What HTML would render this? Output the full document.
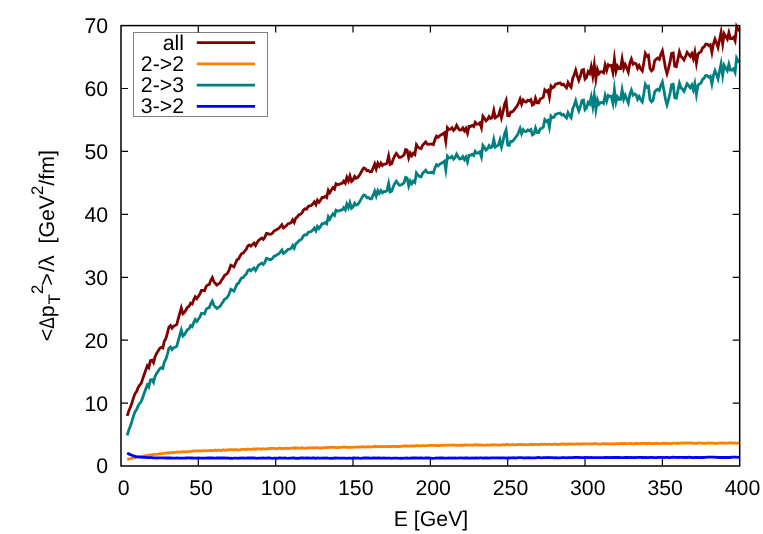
<!DOCTYPE html>
<html><head><meta charset="utf-8"><style>
html,body{margin:0;padding:0;background:#fff;}
svg{display:block;will-change:transform}
text{font-family:"Liberation Sans",sans-serif;font-size:21.3px;fill:#000;white-space:pre;text-rendering:geometricPrecision}
</style></head><body>
<svg width="763" height="534" viewBox="0 0 763 534">
<rect width="763" height="534" fill="#fff"/>
<g fill="none" stroke-linejoin="miter" stroke-miterlimit="10" stroke-linecap="butt" stroke-width="2.8">
<path d="M127.2,415.9 L128.7,411.2 L130.3,407.5 L131.8,403.2 L133.4,398.1 L134.9,393.8 L136.5,391.7 L138.0,387.9 L139.6,385.0 L141.1,383.6 L142.7,378.9 L144.2,374.5 L145.7,370.1 L147.3,365.8 L148.8,367.7 L150.4,360.6 L151.9,360.1 L153.5,362.7 L155.0,356.9 L156.6,353.5 L158.1,351.1 L159.7,348.5 L161.2,347.3 L162.8,348.0 L164.3,341.3 L165.9,338.5 L167.4,333.1 L168.9,327.2 L170.5,325.6 L172.0,328.2 L173.6,326.2 L175.1,325.6 L176.7,324.6 L178.2,318.9 L179.8,313.2 L181.3,308.0 L182.9,313.8 L184.4,312.6 L186.0,309.7 L187.5,307.3 L189.1,306.3 L190.6,303.1 L192.2,304.0 L193.7,299.8 L195.2,296.7 L196.8,298.6 L198.3,296.4 L199.9,294.0 L201.4,290.3 L203.0,290.3 L204.5,290.8 L206.1,286.4 L207.6,284.9 L209.2,284.5 L210.7,280.6 L212.3,277.6 L213.8,281.6 L215.4,283.5 L216.9,285.0 L218.4,283.8 L220.0,282.9 L221.5,280.3 L223.1,278.0 L224.6,275.4 L226.2,274.5 L227.7,272.9 L229.3,269.5 L230.8,265.3 L232.4,266.1 L233.9,266.8 L235.5,263.4 L237.0,259.8 L238.6,258.9 L240.1,255.9 L241.6,253.6 L243.2,253.1 L244.7,251.1 L246.3,249.3 L247.8,246.0 L249.4,244.9 L250.9,246.1 L252.5,244.6 L254.0,243.1 L255.6,245.5 L257.1,242.7 L258.7,240.2 L260.2,239.1 L261.8,238.1 L263.3,239.5 L264.8,237.4 L266.4,233.4 L267.9,233.7 L269.5,234.3 L271.0,234.2 L272.6,233.0 L274.1,230.8 L275.7,230.2 L277.2,229.2 L278.8,228.4 L280.3,226.6 L281.9,224.6 L283.4,228.0 L285.0,226.9 L286.5,225.6 L288.0,223.7 L289.6,223.5 L291.1,222.7 L292.7,219.9 L294.2,222.5 L295.8,218.1 L297.3,216.9 L298.9,214.8 L300.4,214.3 L302.0,212.9 L303.5,210.0 L305.1,208.8 L306.6,209.1 L308.2,206.5 L309.7,205.9 L311.3,205.5 L312.8,204.0 L314.3,201.9 L315.9,204.7 L317.4,200.2 L319.0,202.4 L320.5,200.2 L322.1,197.5 L323.6,197.5 L325.2,196.3 L326.7,197.5 L328.3,190.3 L329.8,192.8 L331.4,189.9 L332.9,187.6 L334.5,189.1 L336.0,183.8 L337.5,184.6 L339.1,184.3 L340.6,183.7 L342.2,183.3 L343.7,181.1 L345.3,183.1 L346.8,177.4 L348.4,180.9 L349.9,175.9 L351.5,181.5 L353.0,180.1 L354.6,176.4 L356.1,178.3 L357.7,177.6 L359.2,175.6 L360.7,173.0 L362.3,170.1 L363.8,168.0 L365.4,168.6 L366.9,170.7 L368.5,170.4 L370.0,171.7 L371.6,171.6 L373.1,168.0 L374.7,164.0 L376.2,168.8 L377.8,163.3 L379.3,166.1 L380.9,163.1 L382.4,165.5 L383.9,164.1 L385.5,164.1 L387.0,163.1 L388.6,156.1 L390.1,164.4 L391.7,163.7 L393.2,159.3 L394.8,155.7 L396.3,153.4 L397.9,155.6 L399.4,157.5 L401.0,157.2 L402.5,156.2 L404.1,154.7 L405.6,149.6 L407.1,150.1 L408.7,157.8 L410.2,153.0 L411.8,155.7 L413.3,153.2 L414.9,154.6 L416.4,144.8 L418.0,147.1 L419.5,148.3 L421.1,148.6 L422.6,145.2 L424.2,143.5 L425.7,141.9 L427.3,144.2 L428.8,144.3 L430.4,144.1 L431.9,144.0 L433.4,144.6 L435.0,139.3 L436.5,136.2 L438.1,137.4 L439.6,135.8 L441.2,134.8 L442.7,134.1 L444.3,132.8 L445.8,141.3 L447.4,127.6 L448.9,129.4 L450.5,129.2 L452.0,127.8 L453.6,130.5 L455.1,128.8 L456.6,125.4 L458.2,128.2 L459.7,130.1 L461.3,130.0 L462.8,127.9 L464.4,130.9 L465.9,128.3 L467.5,133.2 L469.0,126.4 L470.6,126.5 L472.1,125.4 L473.7,126.5 L475.2,122.3 L476.8,124.2 L478.3,124.1 L479.8,122.9 L481.4,127.8 L482.9,116.3 L484.5,118.4 L486.0,120.9 L487.6,119.5 L489.1,116.5 L490.7,118.5 L492.2,117.6 L493.8,110.4 L495.3,117.8 L496.9,116.7 L498.4,115.7 L500.0,110.6 L501.5,117.7 L503.0,112.0 L504.6,104.2 L506.1,100.5 L507.7,115.6 L509.2,115.9 L510.8,111.8 L512.3,111.8 L513.9,110.3 L515.4,108.1 L517.0,106.2 L518.5,103.1 L520.1,99.1 L521.6,104.1 L523.2,100.0 L524.7,101.7 L526.2,101.9 L527.8,100.2 L529.3,100.9 L530.9,99.7 L532.4,105.1 L534.0,104.1 L535.5,98.2 L537.1,102.7 L538.6,103.0 L540.2,99.0 L541.7,98.3 L543.3,97.2 L544.8,89.8 L546.4,91.4 L547.9,90.3 L549.4,97.2 L551.0,86.1 L552.5,87.7 L554.1,87.0 L555.6,84.1 L557.2,83.8 L558.7,83.2 L560.3,83.0 L561.8,84.8 L563.4,84.2 L564.9,86.1 L566.5,87.8 L568.0,82.5 L569.6,85.4 L571.1,87.3 L572.7,78.4 L574.2,74.8 L575.7,70.2 L577.3,76.1 L578.8,80.4 L580.4,76.1 L581.9,70.0 L583.5,69.5 L585.0,79.0 L586.6,77.3 L588.1,71.7 L589.7,73.5 L591.2,66.7 L592.8,76.0 L594.3,64.8 L595.9,78.9 L597.4,69.4 L598.9,73.7 L600.5,71.9 L602.0,71.7 L603.6,72.8 L605.1,65.0 L606.7,70.4 L608.2,64.8 L609.8,65.8 L611.3,65.4 L612.9,72.3 L614.4,58.9 L616.0,71.3 L617.5,66.1 L619.1,68.5 L620.6,68.5 L622.1,59.0 L623.7,68.4 L625.2,64.4 L626.8,68.1 L628.3,72.0 L629.9,63.0 L631.4,59.1 L633.0,64.2 L634.5,63.1 L636.1,63.8 L637.6,68.3 L639.2,65.6 L640.7,68.8 L642.3,70.9 L643.8,62.8 L645.3,53.4 L646.9,56.1 L648.4,55.2 L650.0,68.3 L651.5,70.7 L653.1,69.2 L654.6,60.9 L656.2,59.1 L657.7,58.1 L659.3,59.4 L660.8,54.5 L662.4,50.8 L663.9,59.0 L665.5,68.3 L667.0,73.6 L668.5,68.4 L670.1,61.7 L671.6,53.4 L673.2,53.0 L674.7,66.3 L676.3,66.8 L677.8,59.8 L679.4,51.9 L680.9,56.2 L682.5,58.0 L684.0,60.0 L685.6,56.2 L687.1,52.3 L688.7,54.3 L690.2,56.4 L691.8,53.6 L693.3,58.6 L694.8,52.1 L696.4,63.0 L697.9,54.3 L699.5,52.4 L701.0,51.8 L702.6,47.8 L704.1,46.9 L705.7,44.1 L707.2,44.1 L708.8,45.7 L710.3,44.7 L711.9,52.6 L713.4,44.1 L715.0,39.2 L716.5,42.9 L718.0,47.4 L719.6,39.5 L721.1,32.2 L722.7,43.9 L724.2,33.8 L725.8,36.6 L727.3,39.1 L728.9,32.7 L730.4,38.5 L732.0,38.5 L733.5,37.2 L735.1,40.8 L736.6,26.5 L738.2,29.4 L739.7,30.9" stroke="#800000"/>
<path d="M127.2,459.4 L128.7,459.1 L130.3,458.7 L131.8,458.4 L133.4,458.0 L134.9,457.6 L136.5,457.0 L138.0,456.9 L139.6,456.8 L141.1,456.5 L142.7,456.3 L144.2,455.8 L145.7,455.7 L147.3,455.4 L148.8,455.2 L150.4,455.0 L151.9,454.6 L153.5,454.5 L155.0,454.3 L156.6,454.3 L158.1,454.1 L159.7,453.7 L161.2,453.8 L162.8,453.4 L164.3,453.4 L165.9,453.1 L167.4,452.8 L168.9,453.1 L170.5,452.6 L172.0,452.5 L173.6,452.7 L175.1,452.5 L176.7,452.0 L178.2,452.3 L179.8,452.0 L181.3,452.0 L182.9,451.6 L184.4,451.9 L186.0,451.7 L187.5,451.8 L189.1,451.7 L190.6,451.3 L192.2,451.2 L193.7,451.0 L195.2,450.9 L196.8,450.8 L198.3,450.9 L199.9,451.0 L201.4,450.6 L203.0,450.9 L204.5,450.7 L206.1,450.6 L207.6,450.9 L209.2,450.6 L210.7,450.4 L212.3,450.5 L213.8,450.6 L215.4,450.1 L216.9,450.7 L218.4,450.0 L220.0,450.4 L221.5,450.5 L223.1,449.8 L224.6,450.3 L226.2,449.9 L227.7,450.0 L229.3,449.6 L230.8,449.6 L232.4,449.6 L233.9,450.1 L235.5,449.5 L237.0,449.8 L238.6,449.9 L240.1,449.8 L241.6,449.4 L243.2,449.3 L244.7,449.4 L246.3,449.5 L247.8,449.0 L249.4,449.4 L250.9,449.4 L252.5,449.4 L254.0,448.8 L255.6,449.4 L257.1,448.7 L258.7,448.9 L260.2,449.0 L261.8,449.2 L263.3,448.7 L264.8,449.1 L266.4,448.8 L267.9,448.6 L269.5,448.5 L271.0,448.4 L272.6,448.3 L274.1,448.3 L275.7,448.6 L277.2,448.8 L278.8,448.2 L280.3,448.1 L281.9,448.7 L283.4,448.4 L285.0,448.3 L286.5,448.1 L288.0,448.3 L289.6,448.5 L291.1,448.2 L292.7,448.1 L294.2,447.8 L295.8,448.4 L297.3,447.8 L298.9,448.1 L300.4,448.3 L302.0,447.8 L303.5,448.2 L305.1,448.3 L306.6,448.0 L308.2,448.1 L309.7,447.6 L311.3,447.8 L312.8,447.6 L314.3,448.0 L315.9,447.6 L317.4,447.7 L319.0,448.1 L320.5,447.9 L322.1,448.0 L323.6,447.6 L325.2,447.6 L326.7,447.7 L328.3,447.5 L329.8,447.4 L331.4,447.4 L332.9,447.2 L334.5,447.3 L336.0,447.7 L337.5,447.7 L339.1,447.4 L340.6,447.3 L342.2,447.2 L343.7,447.0 L345.3,447.1 L346.8,447.4 L348.4,447.4 L349.9,447.1 L351.5,447.3 L353.0,447.3 L354.6,447.2 L356.1,447.1 L357.7,447.2 L359.2,446.9 L360.7,447.1 L362.3,446.7 L363.8,446.9 L365.4,447.0 L366.9,446.9 L368.5,446.6 L370.0,447.1 L371.6,446.8 L373.1,446.7 L374.7,446.3 L376.2,446.6 L377.8,446.4 L379.3,446.7 L380.9,446.5 L382.4,446.7 L383.9,446.6 L385.5,446.6 L387.0,446.3 L388.6,446.5 L390.1,446.5 L391.7,446.5 L393.2,446.2 L394.8,446.5 L396.3,446.5 L397.9,446.3 L399.4,446.5 L401.0,446.4 L402.5,446.1 L404.1,446.1 L405.6,445.8 L407.1,446.2 L408.7,446.2 L410.2,445.9 L411.8,446.0 L413.3,446.0 L414.9,446.0 L416.4,445.5 L418.0,445.9 L419.5,445.8 L421.1,445.8 L422.6,445.6 L424.2,445.7 L425.7,445.8 L427.3,445.6 L428.8,445.7 L430.4,445.2 L431.9,445.3 L433.4,445.4 L435.0,445.6 L436.5,445.3 L438.1,445.6 L439.6,445.5 L441.2,445.1 L442.7,445.4 L444.3,445.2 L445.8,445.1 L447.4,445.1 L448.9,445.2 L450.5,445.1 L452.0,445.1 L453.6,445.0 L455.1,445.3 L456.6,445.2 L458.2,445.3 L459.7,445.3 L461.3,445.0 L462.8,445.5 L464.4,444.8 L465.9,445.1 L467.5,445.0 L469.0,445.1 L470.6,444.9 L472.1,445.3 L473.7,445.0 L475.2,444.7 L476.8,445.1 L478.3,444.8 L479.8,445.1 L481.4,444.9 L482.9,445.1 L484.5,445.3 L486.0,445.2 L487.6,444.9 L489.1,445.2 L490.7,445.0 L492.2,444.8 L493.8,444.6 L495.3,444.9 L496.9,444.9 L498.4,445.2 L500.0,445.2 L501.5,444.9 L503.0,444.7 L504.6,445.1 L506.1,444.4 L507.7,444.5 L509.2,444.8 L510.8,444.8 L512.3,444.5 L513.9,444.8 L515.4,444.9 L517.0,444.6 L518.5,444.6 L520.1,444.4 L521.6,444.5 L523.2,444.9 L524.7,444.5 L526.2,444.9 L527.8,444.8 L529.3,444.6 L530.9,444.3 L532.4,444.8 L534.0,444.5 L535.5,444.4 L537.1,444.3 L538.6,444.8 L540.2,444.4 L541.7,444.2 L543.3,444.4 L544.8,444.1 L546.4,444.4 L547.9,444.3 L549.4,444.2 L551.0,444.5 L552.5,444.5 L554.1,443.9 L555.6,444.3 L557.2,444.1 L558.7,444.5 L560.3,444.4 L561.8,444.0 L563.4,444.0 L564.9,443.9 L566.5,444.5 L568.0,444.0 L569.6,444.2 L571.1,444.0 L572.7,444.2 L574.2,444.1 L575.7,444.2 L577.3,443.7 L578.8,444.2 L580.4,443.8 L581.9,444.0 L583.5,443.8 L585.0,443.8 L586.6,443.9 L588.1,443.9 L589.7,443.8 L591.2,444.0 L592.8,443.9 L594.3,443.5 L595.9,443.7 L597.4,443.8 L598.9,444.1 L600.5,444.1 L602.0,443.8 L603.6,443.4 L605.1,444.0 L606.7,443.7 L608.2,443.8 L609.8,443.9 L611.3,443.8 L612.9,443.7 L614.4,444.0 L616.0,443.6 L617.5,443.6 L619.1,443.9 L620.6,443.4 L622.1,443.5 L623.7,443.9 L625.2,443.3 L626.8,443.8 L628.3,443.7 L629.9,443.5 L631.4,443.4 L633.0,443.8 L634.5,443.8 L636.1,443.3 L637.6,443.5 L639.2,443.6 L640.7,443.5 L642.3,443.4 L643.8,443.2 L645.3,443.5 L646.9,443.7 L648.4,443.2 L650.0,443.3 L651.5,443.7 L653.1,443.6 L654.6,443.5 L656.2,443.1 L657.7,443.5 L659.3,443.7 L660.8,443.7 L662.4,443.5 L663.9,443.0 L665.5,443.6 L667.0,443.1 L668.5,443.4 L670.1,443.6 L671.6,443.5 L673.2,443.1 L674.7,443.2 L676.3,443.6 L677.8,443.1 L679.4,443.4 L680.9,443.2 L682.5,443.0 L684.0,443.4 L685.6,443.0 L687.1,443.0 L688.7,443.2 L690.2,443.0 L691.8,442.9 L693.3,443.3 L694.8,443.4 L696.4,443.5 L697.9,443.0 L699.5,443.2 L701.0,443.1 L702.6,443.3 L704.1,443.2 L705.7,443.5 L707.2,443.1 L708.8,442.9 L710.3,443.3 L711.9,442.9 L713.4,443.3 L715.0,443.2 L716.5,443.5 L718.0,443.2 L719.6,443.2 L721.1,443.0 L722.7,443.2 L724.2,443.0 L725.8,443.3 L727.3,443.2 L728.9,442.9 L730.4,442.9 L732.0,443.0 L733.5,443.3 L735.1,442.9 L736.6,443.3 L738.2,443.2 L739.7,442.8" stroke="#ff7f00"/>
<path d="M127.2,435.4 L128.7,430.3 L130.3,426.2 L131.8,421.7 L133.4,416.4 L134.9,411.9 L136.5,409.7 L138.0,406.0 L139.6,403.3 L141.1,402.0 L142.7,397.5 L144.2,393.2 L145.7,389.0 L147.3,384.9 L148.8,387.0 L150.4,380.0 L151.9,379.6 L153.5,382.4 L155.0,376.7 L156.6,373.4 L158.1,371.2 L159.7,368.8 L161.2,367.7 L162.8,368.5 L164.3,362.0 L165.9,359.3 L167.4,354.1 L168.9,348.3 L170.5,346.9 L172.0,349.5 L173.6,347.7 L175.1,347.3 L176.7,346.4 L178.2,340.8 L179.8,335.1 L181.3,330.0 L182.9,336.0 L184.4,334.8 L186.0,332.0 L187.5,329.6 L189.1,328.8 L190.6,325.6 L192.2,326.6 L193.7,322.5 L195.2,319.5 L196.8,321.4 L198.3,319.3 L199.9,317.0 L201.4,313.4 L203.0,313.3 L204.5,313.9 L206.1,309.6 L207.6,308.1 L209.2,307.8 L210.7,303.9 L212.3,301.0 L213.8,305.0 L215.4,307.0 L216.9,308.5 L218.4,307.4 L220.0,306.5 L221.5,304.0 L223.1,301.8 L224.6,299.2 L226.2,298.4 L227.7,296.8 L229.3,293.5 L230.8,289.3 L232.4,290.2 L233.9,291.0 L235.5,287.6 L237.0,284.1 L238.6,283.2 L240.1,280.3 L241.6,278.0 L243.2,277.5 L244.7,275.6 L246.3,273.9 L247.8,270.6 L249.4,269.5 L250.9,270.8 L252.5,269.3 L254.0,267.9 L255.6,270.4 L257.1,267.6 L258.7,265.0 L260.2,264.1 L261.8,263.1 L263.3,264.5 L264.8,262.5 L266.4,258.5 L267.9,258.9 L269.5,259.5 L271.0,259.5 L272.6,258.3 L274.1,256.1 L275.7,255.6 L277.2,254.6 L278.8,253.8 L280.3,252.1 L281.9,250.0 L283.4,253.5 L285.0,252.5 L286.5,251.1 L288.0,249.3 L289.6,249.1 L291.1,248.4 L292.7,245.5 L294.2,248.2 L295.8,243.8 L297.3,242.7 L298.9,240.6 L300.4,240.1 L302.0,238.7 L303.5,235.8 L305.1,234.7 L306.6,235.0 L308.2,232.4 L309.7,231.9 L311.3,231.5 L312.8,230.0 L314.3,228.0 L315.9,230.8 L317.4,226.4 L319.0,228.6 L320.5,226.4 L322.1,223.7 L323.6,223.7 L325.2,222.6 L326.7,223.8 L328.3,216.7 L329.8,219.2 L331.4,216.2 L332.9,214.0 L334.5,215.5 L336.0,210.3 L337.5,211.1 L339.1,210.8 L340.6,210.2 L342.2,209.9 L343.7,207.7 L345.3,209.8 L346.8,204.1 L348.4,207.5 L349.9,202.6 L351.5,208.2 L353.0,206.8 L354.6,203.2 L356.1,205.1 L357.7,204.5 L359.2,202.5 L360.7,199.9 L362.3,197.0 L363.8,195.0 L365.4,195.7 L366.9,197.8 L368.5,197.5 L370.0,198.8 L371.6,198.8 L373.1,195.2 L374.7,191.2 L376.2,196.0 L377.8,190.6 L379.3,193.4 L380.9,190.5 L382.4,192.9 L383.9,191.5 L385.5,191.5 L387.0,190.6 L388.6,183.6 L390.1,192.0 L391.7,191.3 L393.2,186.9 L394.8,183.4 L396.3,181.1 L397.9,183.3 L399.4,185.2 L401.0,184.9 L402.5,184.0 L404.1,182.6 L405.6,177.4 L407.1,178.0 L408.7,185.8 L410.2,181.0 L411.8,183.7 L413.3,181.2 L414.9,182.6 L416.4,172.9 L418.0,175.2 L419.5,176.4 L421.1,176.8 L422.6,173.4 L424.2,171.8 L425.7,170.2 L427.3,172.5 L428.8,172.7 L430.4,172.5 L431.9,172.3 L433.4,173.0 L435.0,167.7 L436.5,164.6 L438.1,165.8 L439.6,164.3 L441.2,163.3 L442.7,162.6 L444.3,161.3 L445.8,169.8 L447.4,156.2 L448.9,158.0 L450.5,157.8 L452.0,156.4 L453.6,159.1 L455.1,157.5 L456.6,154.1 L458.2,156.9 L459.7,158.9 L461.3,158.7 L462.8,156.7 L464.4,159.7 L465.9,157.1 L467.5,162.0 L469.0,155.3 L470.6,155.4 L472.1,154.3 L473.7,155.5 L475.2,151.2 L476.8,153.1 L478.3,153.1 L479.8,151.9 L481.4,156.9 L482.9,145.3 L484.5,147.5 L486.0,150.0 L487.6,148.6 L489.1,145.6 L490.7,147.7 L492.2,146.8 L493.8,139.6 L495.3,147.1 L496.9,145.9 L498.4,145.0 L500.0,139.9 L501.5,147.0 L503.0,141.3 L504.6,133.6 L506.1,129.9 L507.7,145.0 L509.2,145.3 L510.8,141.3 L512.3,141.3 L513.9,139.8 L515.4,137.6 L517.0,135.8 L518.5,132.6 L520.1,128.6 L521.6,133.7 L523.2,129.6 L524.7,131.4 L526.2,131.6 L527.8,129.9 L529.3,130.6 L530.9,129.5 L532.4,134.8 L534.0,133.9 L535.5,128.0 L537.1,132.6 L538.6,132.8 L540.2,128.9 L541.7,128.2 L543.3,127.1 L544.8,119.7 L546.4,121.3 L547.9,120.3 L549.4,127.2 L551.0,116.1 L552.5,117.7 L554.1,117.1 L555.6,114.2 L557.2,113.9 L558.7,113.3 L560.3,113.1 L561.8,115.0 L563.4,114.4 L564.9,116.4 L566.5,118.0 L568.0,112.7 L569.6,115.6 L571.1,117.7 L572.7,108.7 L574.2,105.2 L575.7,100.6 L577.3,106.5 L578.8,110.9 L580.4,106.5 L581.9,100.5 L583.5,100.0 L585.0,109.6 L586.6,107.9 L588.1,102.3 L589.7,104.1 L591.2,97.2 L592.8,106.5 L594.3,95.4 L595.9,109.5 L597.4,100.0 L598.9,104.3 L600.5,102.6 L602.0,102.4 L603.6,103.5 L605.1,95.6 L606.7,101.1 L608.2,95.5 L609.8,96.5 L611.3,96.2 L612.9,103.1 L614.4,89.6 L616.0,102.1 L617.5,96.9 L619.1,99.3 L620.6,99.3 L622.1,89.8 L623.7,99.2 L625.2,95.3 L626.8,99.0 L628.3,102.9 L629.9,94.0 L631.4,90.0 L633.0,95.2 L634.5,94.0 L636.1,94.8 L637.6,99.3 L639.2,96.6 L640.7,99.8 L642.3,101.9 L643.8,93.8 L645.3,84.4 L646.9,87.2 L648.4,86.3 L650.0,99.4 L651.5,101.8 L653.1,100.3 L654.6,92.1 L656.2,90.2 L657.7,89.3 L659.3,90.5 L660.8,85.6 L662.4,82.0 L663.9,90.2 L665.5,99.5 L667.0,104.8 L668.5,99.6 L670.1,93.0 L671.6,84.6 L673.2,84.2 L674.7,97.6 L676.3,98.1 L677.8,91.1 L679.4,83.2 L680.9,87.5 L682.5,89.3 L684.0,91.4 L685.6,87.5 L687.1,83.7 L688.7,85.6 L690.2,87.7 L691.8,85.0 L693.3,89.9 L694.8,83.5 L696.4,94.4 L697.9,85.6 L699.5,83.8 L701.0,83.2 L702.6,79.2 L704.1,78.3 L705.7,75.5 L707.2,75.6 L708.8,77.2 L710.3,76.2 L711.9,84.1 L713.4,75.6 L715.0,70.6 L716.5,74.4 L718.0,78.9 L719.6,71.0 L721.1,63.7 L722.7,75.4 L724.2,65.3 L725.8,68.1 L727.3,70.6 L728.9,64.2 L730.4,70.0 L732.0,70.0 L733.5,68.7 L735.1,72.4 L736.6,58.1 L738.2,61.0 L739.7,62.5" stroke="#008080"/>
<path d="M127.2,453.1 L128.7,453.9 L130.3,454.6 L131.8,455.3 L133.4,455.8 L134.9,456.5 L136.5,456.8 L138.0,456.9 L139.6,457.1 L141.1,457.1 L142.7,457.3 L144.2,457.2 L145.7,457.3 L147.3,457.6 L148.8,457.6 L150.4,457.5 L151.9,457.6 L153.5,457.8 L155.0,457.9 L156.6,458.0 L158.1,457.8 L159.7,457.9 L161.2,457.9 L162.8,457.9 L164.3,457.9 L165.9,458.0 L167.4,457.9 L168.9,458.0 L170.5,457.9 L172.0,458.1 L173.6,458.1 L175.1,458.1 L176.7,458.0 L178.2,458.2 L179.8,458.1 L181.3,458.1 L182.9,458.1 L184.4,458.2 L186.0,458.0 L187.5,457.9 L189.1,457.9 L190.6,458.0 L192.2,457.9 L193.7,458.2 L195.2,458.1 L196.8,458.2 L198.3,457.9 L199.9,458.1 L201.4,458.2 L203.0,458.1 L204.5,458.1 L206.1,458.1 L207.6,457.9 L209.2,458.0 L210.7,458.0 L212.3,458.0 L213.8,458.1 L215.4,458.2 L216.9,458.0 L218.4,458.0 L220.0,458.0 L221.5,458.0 L223.1,458.0 L224.6,458.0 L226.2,458.1 L227.7,457.9 L229.3,458.3 L230.8,458.1 L232.4,458.3 L233.9,458.2 L235.5,458.2 L237.0,458.1 L238.6,458.3 L240.1,458.0 L241.6,458.2 L243.2,458.0 L244.7,458.2 L246.3,458.2 L247.8,458.0 L249.4,458.0 L250.9,457.9 L252.5,458.0 L254.0,458.0 L255.6,458.1 L257.1,458.3 L258.7,458.1 L260.2,458.1 L261.8,458.1 L263.3,458.0 L264.8,458.2 L266.4,458.2 L267.9,458.0 L269.5,458.0 L271.0,458.2 L272.6,458.3 L274.1,458.2 L275.7,458.1 L277.2,458.3 L278.8,457.9 L280.3,458.0 L281.9,458.2 L283.4,458.1 L285.0,458.0 L286.5,458.2 L288.0,458.3 L289.6,458.1 L291.1,458.1 L292.7,458.0 L294.2,458.0 L295.8,458.3 L297.3,458.1 L298.9,458.3 L300.4,458.0 L302.0,458.0 L303.5,458.0 L305.1,458.1 L306.6,458.0 L308.2,458.0 L309.7,458.1 L311.3,458.1 L312.8,458.0 L314.3,458.0 L315.9,458.3 L317.4,458.0 L319.0,458.1 L320.5,458.1 L322.1,458.1 L323.6,458.0 L325.2,458.1 L326.7,458.0 L328.3,458.2 L329.8,458.3 L331.4,458.2 L332.9,458.3 L334.5,458.0 L336.0,457.9 L337.5,458.2 L339.1,458.1 L340.6,458.2 L342.2,458.1 L343.7,458.2 L345.3,458.2 L346.8,458.3 L348.4,458.1 L349.9,458.1 L351.5,458.3 L353.0,458.0 L354.6,458.0 L356.1,458.1 L357.7,458.0 L359.2,458.2 L360.7,458.3 L362.3,458.1 L363.8,458.0 L365.4,458.0 L366.9,458.0 L368.5,458.0 L370.0,458.1 L371.6,458.2 L373.1,458.0 L374.7,458.0 L376.2,458.2 L377.8,458.0 L379.3,458.0 L380.9,458.1 L382.4,458.1 L383.9,458.0 L385.5,458.1 L387.0,458.1 L388.6,458.2 L390.1,458.2 L391.7,458.3 L393.2,458.2 L394.8,458.2 L396.3,458.2 L397.9,458.1 L399.4,458.3 L401.0,458.2 L402.5,458.3 L404.1,458.2 L405.6,458.2 L407.1,458.0 L408.7,458.3 L410.2,458.1 L411.8,458.0 L413.3,458.0 L414.9,458.0 L416.4,458.0 L418.0,458.2 L419.5,458.0 L421.1,458.0 L422.6,458.2 L424.2,458.2 L425.7,457.9 L427.3,458.0 L428.8,458.0 L430.4,458.1 L431.9,458.3 L433.4,458.3 L435.0,458.2 L436.5,458.0 L438.1,458.1 L439.6,458.0 L441.2,458.0 L442.7,457.9 L444.3,458.1 L445.8,458.2 L447.4,458.2 L448.9,457.9 L450.5,458.1 L452.0,457.9 L453.6,458.1 L455.1,458.0 L456.6,458.2 L458.2,458.2 L459.7,457.9 L461.3,457.9 L462.8,458.2 L464.4,458.0 L465.9,458.0 L467.5,458.0 L469.0,458.1 L470.6,458.2 L472.1,458.0 L473.7,458.2 L475.2,458.0 L476.8,457.8 L478.3,458.1 L479.8,457.9 L481.4,457.8 L482.9,458.1 L484.5,457.8 L486.0,458.0 L487.6,457.9 L489.1,458.1 L490.7,457.9 L492.2,457.8 L493.8,457.8 L495.3,457.8 L496.9,457.9 L498.4,457.8 L500.0,458.0 L501.5,457.8 L503.0,457.8 L504.6,457.8 L506.1,458.1 L507.7,458.0 L509.2,458.0 L510.8,457.9 L512.3,457.8 L513.9,457.7 L515.4,458.0 L517.0,457.8 L518.5,457.6 L520.1,457.7 L521.6,457.6 L523.2,457.9 L524.7,458.0 L526.2,457.7 L527.8,457.9 L529.3,457.7 L530.9,457.8 L532.4,457.9 L534.0,457.8 L535.5,457.9 L537.1,457.7 L538.6,457.5 L540.2,457.7 L541.7,457.8 L543.3,457.6 L544.8,457.7 L546.4,457.6 L547.9,457.5 L549.4,457.6 L551.0,457.6 L552.5,457.7 L554.1,457.8 L555.6,457.6 L557.2,457.9 L558.7,457.8 L560.3,457.8 L561.8,457.7 L563.4,457.7 L564.9,457.7 L566.5,457.8 L568.0,457.6 L569.6,457.7 L571.1,457.7 L572.7,457.6 L574.2,457.5 L575.7,457.4 L577.3,457.4 L578.8,457.5 L580.4,457.6 L581.9,457.7 L583.5,457.7 L585.0,457.5 L586.6,457.7 L588.1,457.5 L589.7,457.6 L591.2,457.4 L592.8,457.7 L594.3,457.6 L595.9,457.7 L597.4,457.7 L598.9,457.6 L600.5,457.7 L602.0,457.6 L603.6,457.6 L605.1,457.4 L606.7,457.5 L608.2,457.7 L609.8,457.4 L611.3,457.7 L612.9,457.5 L614.4,457.5 L616.0,457.3 L617.5,457.5 L619.1,457.4 L620.6,457.6 L622.1,457.7 L623.7,457.7 L625.2,457.5 L626.8,457.5 L628.3,457.3 L629.9,457.6 L631.4,457.5 L633.0,457.6 L634.5,457.4 L636.1,457.6 L637.6,457.4 L639.2,457.4 L640.7,457.4 L642.3,457.5 L643.8,457.6 L645.3,457.3 L646.9,457.5 L648.4,457.6 L650.0,457.4 L651.5,457.3 L653.1,457.5 L654.6,457.6 L656.2,457.6 L657.7,457.5 L659.3,457.4 L660.8,457.4 L662.4,457.5 L663.9,457.6 L665.5,457.4 L667.0,457.3 L668.5,457.5 L670.1,457.6 L671.6,457.3 L673.2,457.2 L674.7,457.3 L676.3,457.4 L677.8,457.5 L679.4,457.3 L680.9,457.3 L682.5,457.4 L684.0,457.5 L685.6,457.5 L687.1,457.5 L688.7,457.2 L690.2,457.4 L691.8,457.5 L693.3,457.6 L694.8,457.3 L696.4,457.5 L697.9,457.4 L699.5,457.6 L701.0,457.3 L702.6,457.5 L704.1,457.5 L705.7,457.4 L707.2,457.2 L708.8,457.2 L710.3,457.2 L711.9,457.2 L713.4,457.2 L715.0,457.4 L716.5,457.2 L718.0,457.5 L719.6,457.4 L721.1,457.5 L722.7,457.5 L724.2,457.4 L725.8,457.5 L727.3,457.5 L728.9,457.4 L730.4,457.5 L732.0,457.2 L733.5,457.2 L735.1,457.2 L736.6,457.2 L738.2,457.3 L739.7,457.3" stroke="#0000ff"/>
</g>
<rect x="133.5" y="32.5" width="134" height="84" fill="#fff" stroke="#808080" stroke-width="1"/>
<g text-anchor="end">
<text x="184" y="49.8">all</text><text x="184" y="71.0">2-&gt;2</text><text x="184" y="92.2">2-&gt;3</text><text x="184" y="113.4">3-&gt;2</text>
</g>
<g stroke-width="2.8" fill="none">
<path d="M196.8,42.6 H255" stroke="#800000"/><path d="M196.8,63.8 H255" stroke="#ff7f00"/><path d="M196.8,85.1 H255" stroke="#008080"/><path d="M196.8,106.3 H255" stroke="#0000ff"/>
</g>
<path d="M198.3,466.0 v-7 M198.3,25.6 v7 M275.7,466.0 v-7 M275.7,25.6 v7 M353.0,466.0 v-7 M353.0,25.6 v7 M430.4,466.0 v-7 M430.4,25.6 v7 M507.7,466.0 v-7 M507.7,25.6 v7 M585.0,466.0 v-7 M585.0,25.6 v7 M662.4,466.0 v-7 M662.4,25.6 v7 M121.0,403.1 h7 M739.7,403.1 h-7 M121.0,340.2 h7 M739.7,340.2 h-7 M121.0,277.3 h7 M739.7,277.3 h-7 M121.0,214.3 h7 M739.7,214.3 h-7 M121.0,151.4 h7 M739.7,151.4 h-7 M121.0,88.5 h7 M739.7,88.5 h-7 " stroke="#000" stroke-width="1.2" fill="none"/>
<rect x="121.0" y="25.6" width="618.7" height="440.4" fill="none" stroke="#000" stroke-width="1.5"/>
<text x="123.8" y="494.6" text-anchor="middle">0</text><text x="201.1" y="494.6" text-anchor="middle">50</text><text x="278.5" y="494.6" text-anchor="middle">100</text><text x="355.8" y="494.6" text-anchor="middle">150</text><text x="433.2" y="494.6" text-anchor="middle">200</text><text x="510.5" y="494.6" text-anchor="middle">250</text><text x="587.8" y="494.6" text-anchor="middle">300</text><text x="665.2" y="494.6" text-anchor="middle">350</text><text x="742.5" y="494.6" text-anchor="middle">400</text><text x="108.2" y="473.4" text-anchor="end">0</text><text x="108.2" y="410.5" text-anchor="end">10</text><text x="108.2" y="347.6" text-anchor="end">20</text><text x="108.2" y="284.7" text-anchor="end">30</text><text x="108.2" y="221.7" text-anchor="end">40</text><text x="108.2" y="158.8" text-anchor="end">50</text><text x="108.2" y="95.9" text-anchor="end">60</text><text x="108.2" y="33.0" text-anchor="end">70</text>
<text x="431" y="525.6" text-anchor="middle">E [GeV]</text>
<g transform="translate(53.5,245.7) rotate(-90)"><text text-anchor="middle" x="0" y="0" xml:space="preserve">&lt;<tspan textLength="11.5" lengthAdjust="spacingAndGlyphs">&#916;</tspan>p<tspan dy="6.3" dx="1.2" font-size="16.8">T</tspan><tspan dy="-16.6" font-size="16.8">2</tspan><tspan dy="10.3" dx="-1.2">&gt;</tspan><tspan dx="1.5">/&#955;&#160;&#160;[GeV</tspan><tspan dy="-10.3" font-size="16.8">2</tspan><tspan dy="10.3">/fm]</tspan></text></g>
</svg>
</body></html>
